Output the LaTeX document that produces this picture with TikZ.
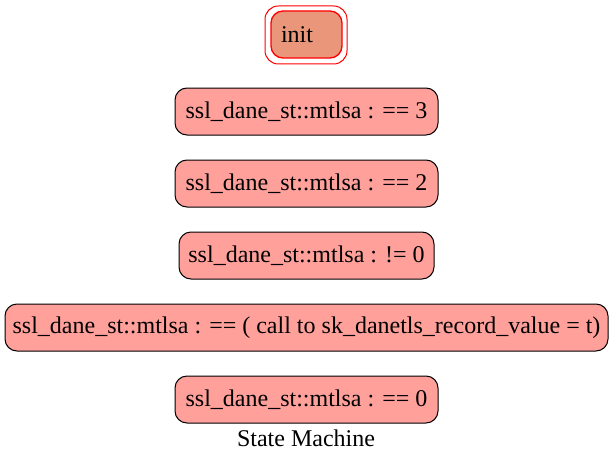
\documentclass[tikz,border=0pt]{standalone}
\usepackage{fontspec}
\setmainfont{Liberation Serif}
\definecolor{statefill}{RGB}{255,160,155}
\definecolor{initfill}{RGB}{234,150,122}
\definecolor{initred}{RGB}{255,0,0}
\tikzset{
  statebox/.style={draw=black, fill=statefill, rounded corners=9pt, line width=0.75pt,
    minimum height=35.25pt, inner sep=0pt, font=\fontsize{18}{20}\selectfont},
  initbox/.style={draw=initred, fill=initfill, rounded corners=9pt, line width=1pt,
    minimum height=35.25pt, minimum width=53.25pt, inner xsep=7.5pt, inner ysep=0pt,
    text width=38.25pt, align=left, font=\fontsize{18}{20}\selectfont},
  initouter/.style={draw=initred, rounded corners=10pt, line width=0.75pt,
    minimum height=43.5pt, minimum width=61.5pt, inner sep=0pt},
  caption/.style={font=\fontsize{18}{20}\selectfont, inner sep=0pt}
}
\begin{document}
\begin{tikzpicture}[x=0.75pt, y=-0.75pt]
\useasboundingbox (0,0) rectangle (613,460);
\node[initouter] (initO) at (306,35) {};
\node[initbox] (init) at (306.5,34.5) {init};
\node[statebox, minimum width=197.25pt] (s3) at (306.5,111.5) {ssl\_dane\_st::mtlsa : == 3};
\node[statebox, minimum width=197.25pt] (s2) at (306.5,183.5) {ssl\_dane\_st::mtlsa : == 2};
\node[statebox, minimum width=191.25pt] (sn0) at (306.5,255.5) {ssl\_dane\_st::mtlsa : != 0};
\node[statebox, minimum width=452.25pt] (scall) at (306.5,327.5) {ssl\_dane\_st::mtlsa : == ( call to sk\_danetls\_record\_value = t)};
\node[statebox, minimum width=197.25pt] (s0) at (306.5,399.5) {ssl\_dane\_st::mtlsa : == 0};
\node[caption] (cap) at (306,438) {State Machine};
\end{tikzpicture}
\end{document}
